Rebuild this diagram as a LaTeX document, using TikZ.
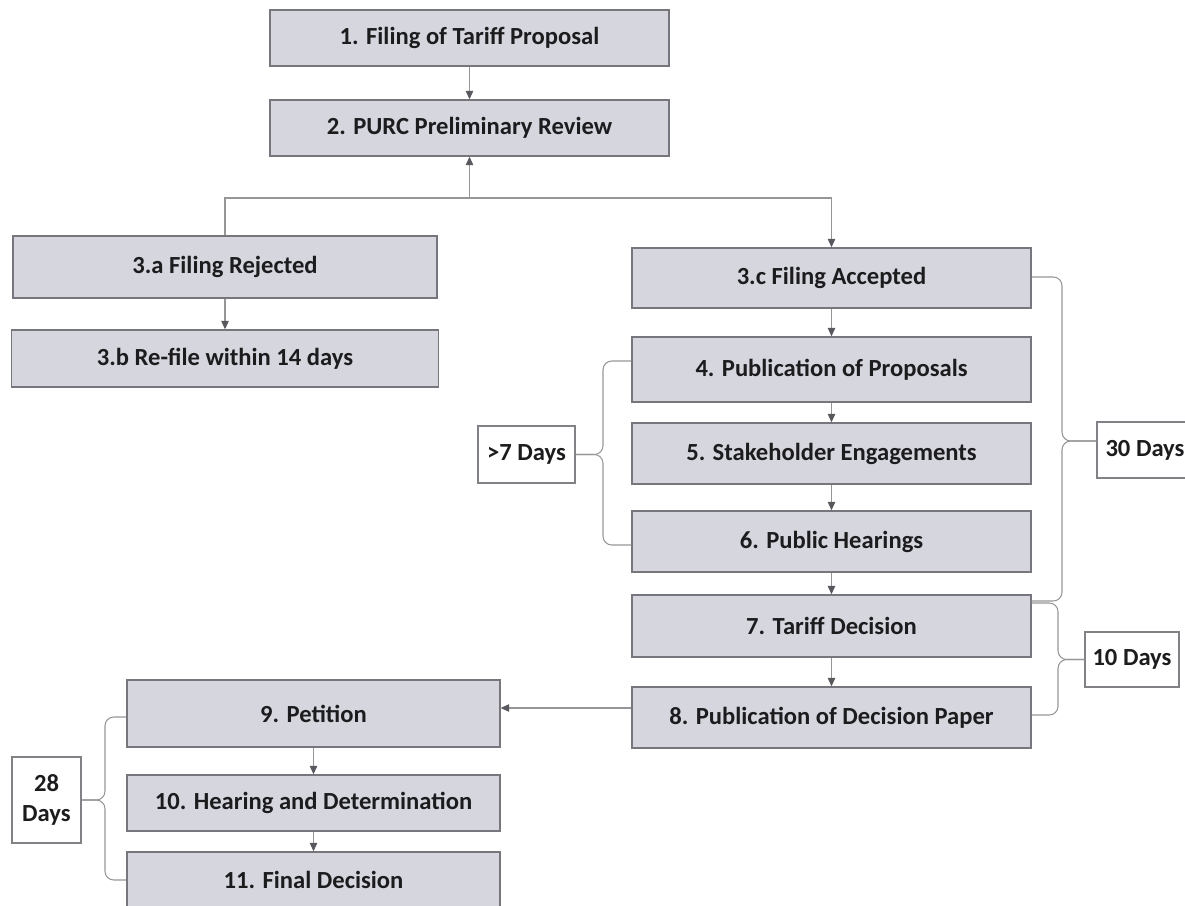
\documentclass[tikz,border=0pt]{standalone}
\usepackage{fontspec}
\setmainfont{Carlito}
\usepackage{tikz}
\usetikzlibrary{
  positioning,
  arrows.meta
}
\definecolor{stepbg}{RGB}{213,214,222}
\definecolor{stepborder}{RGB}{118,118,124}
\definecolor{linkcolor}{RGB}{150,150,152}
\definecolor{tipcolor}{RGB}{88,88,94}
\definecolor{daysborder}{RGB}{130,130,134}
\definecolor{textcolor}{RGB}{28,28,30}
\tikzset{
  stepbox/.style={
    draw=stepborder, fill=stepbg, line width=0.8pt,
    minimum width=7.98cm, minimum height=1.2cm, inner sep=0pt,
    font=\fontsize{14}{17}\selectfont\bfseries, text=textcolor, align=center
  },
  daysbox/.style={
    draw=daysborder, fill=white, line width=0.7pt, inner sep=0pt,
    font=\fontsize{14}{17}\selectfont\bfseries, text=textcolor, align=center
  },
  flowarrow/.style={
    -{Triangle[length=1.7mm, width=1.5mm, color=tipcolor]},
    line width=0.6pt, draw=linkcolor
  },
  flowline/.style={
    line width=0.6pt, draw=linkcolor
  },
  bracket/.style={
    line width=0.6pt, draw=linkcolor, rounded corners=5pt
  }
}

\begin{document}
\begin{tikzpicture}[x=0.02cm, y=-0.02cm]
  \path[use as bounding box] (0,0) rectangle (1185,905);
  \clip (0,0) rectangle (1185,905);

  \node[stepbox, minimum height=1.12cm] (proposal) at (469.5,38) {1. Filing of Tariff Proposal};
  \node[stepbox, minimum height=1.12cm] (review) at (469.5,128) {2. PURC Preliminary Review};

  \node[stepbox, minimum width=8.48cm, minimum height=1.24cm] (rejected) at (225,267) {3.a Filing Rejected};
  \node[stepbox, minimum width=8.54cm, minimum height=1.14cm] (refile) at (225,358.5) {3.b Re-file within 14 days};

  \node[stepbox] (accepted) at (831.5,278) {3.c Filing Accepted};
  \node[stepbox, minimum height=1.3cm] (publish) at (831.5,369.5) {4. Publication of Proposals};
  \node[stepbox, minimum height=1.22cm] (engage) at (831.5,453.5) {5. Stakeholder Engagements};
  \node[stepbox, minimum height=1.22cm] (hearings) at (831.5,541.5) {6. Public Hearings};
  \node[stepbox, minimum height=1.24cm] (decision) at (831.5,626) {7. Tariff Decision};
  \node[stepbox, minimum height=1.22cm] (paper) at (831.5,717.5) {8. Publication of Decision Paper};

  \node[stepbox, minimum width=7.46cm, minimum height=1.34cm] (petition) at (313.5,713.5) {9. Petition};
  \node[stepbox, minimum width=7.46cm, minimum height=1.12cm] (determination) at (313.5,803) {10. Hearing and Determination};
  \node[stepbox, minimum width=7.46cm, minimum height=1.12cm] (final) at (313.5,880) {11. Final Decision};

  \node[daysbox, minimum width=1.94cm, minimum height=1.14cm] (days7) at (526.5,454.5) {>7 Days};
  \node[daysbox, minimum width=1.92cm, minimum height=1.12cm] (days30) at (1145,450) {30 Days};
  \node[daysbox, minimum width=1.88cm, minimum height=1.1cm] (days10) at (1132,659.5) {10 Days};
  \node[daysbox, minimum width=1.38cm, minimum height=1.72cm] (days28) at (46.5,800) {28\\Days};

  \coordinate (split) at (469.5,198);

  \draw[flowarrow] (proposal) -- (review);
  \draw[flowarrow] (split) -- (review.south);
  \draw[flowline] (rejected.north) |- (split);
  \draw[flowarrow] (split) -| (accepted.north);
  \draw[flowarrow] (rejected) -- (refile);

  \draw[flowarrow] (accepted) -- (publish);
  \draw[flowarrow] (publish) -- (engage);
  \draw[flowarrow] (engage) -- (hearings);
  \draw[flowarrow] (hearings) -- (decision);
  \draw[flowarrow] (decision) -- (paper);

  \draw[flowarrow] (paper.west |- 0,708) -- (petition.east |- 0,708);
  \draw[flowarrow] (petition) -- (determination);
  \draw[flowarrow] (determination) -- (final);

  \draw[bracket] (publish.west |- 0,361) -- (603,361) -- (603,454.5) -- (days7.east);
  \draw[bracket] (hearings.west |- 0,545) -- (603,545) -- (603,454.5) -- (days7.east);

  \draw[bracket] (accepted.east |- 0,277) -- (1062,277) -- (1062,441) -- (days30.west |- 0,441);
  \draw[bracket] (decision.east |- 0,601) -- (1062,601) -- (1062,441) -- (days30.west |- 0,441);

  \draw[bracket] (decision.east |- 0,603) -- (1058,603) -- (1058,659.5) -- (days10.west);
  \draw[bracket] (paper.east |- 0,715) -- (1058,715) -- (1058,659.5) -- (days10.west);

  \draw[bracket] (petition.west |- 0,717) -- (105,717) -- (105,800) -- (days28.east);
  \draw[bracket] (final.west |- 0,880) -- (105,880) -- (105,800) -- (days28.east);
\end{tikzpicture}
\end{document}
